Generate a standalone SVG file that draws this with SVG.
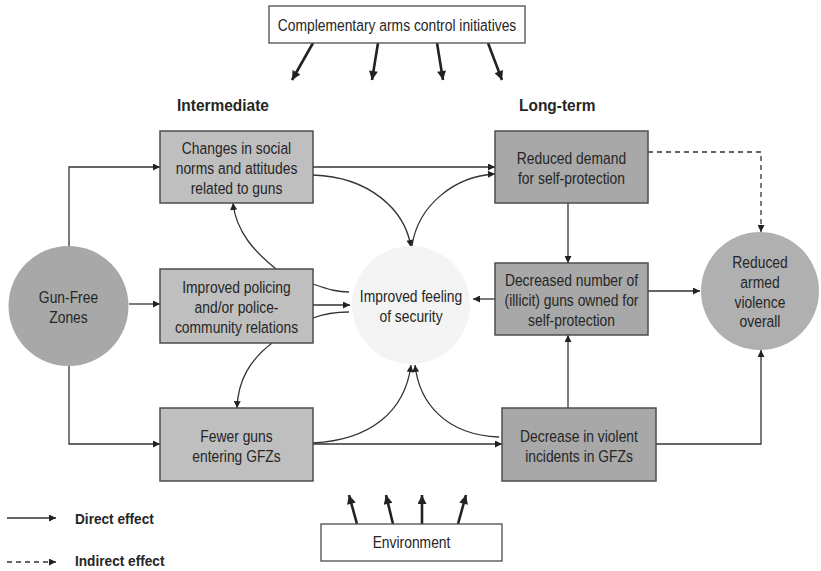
<svg xmlns="http://www.w3.org/2000/svg" width="821" height="571" viewBox="0 0 821 571">
<defs>
<style>
.t{font-family:"Liberation Sans",Arial,sans-serif;font-size:17px;fill:#262626;text-anchor:middle}
.b{font-family:"Liberation Sans",Arial,sans-serif;font-weight:bold;fill:#262626}
.mid{fill:#bfbfbf;stroke:#4d4d4d;stroke-width:1.5}
.lt{fill:#a8a8a8;stroke:#4d4d4d;stroke-width:1.5}
.wb{fill:#fff;stroke:#4d4d4d;stroke-width:1.3}
.c{fill:none;stroke:#333;stroke-width:1.3}
.ca{fill:none;stroke:#333;stroke-width:1.3;marker-end:url(#a)}
.th{fill:none;stroke:#222;stroke-width:2.6;marker-end:url(#at)}
.d{stroke-dasharray:5 4}
</style>
<marker id="a" viewBox="0 0 10 10" refX="10" refY="5" markerWidth="9" markerHeight="7" markerUnits="userSpaceOnUse" orient="auto"><path d="M0,0 L10,5 L0,10 z" fill="#222"/></marker>
<marker id="at" viewBox="0 0 10 10" refX="10" refY="5" markerWidth="11" markerHeight="9" markerUnits="userSpaceOnUse" orient="auto"><path d="M0,0 L10,5 L0,10 z" fill="#222"/></marker>
</defs>
<rect width="821" height="571" fill="#fff"/>

<g id="connectors">
<path class="ca" d="M69,247 V167 H160"/>
<path class="ca" d="M129,304 H160"/>
<path class="ca" d="M69,365 V444 H160"/>
<path class="ca" d="M313,167 H495"/>
<path class="ca" d="M313,175 C370,177 405,210 411,247"/>
<path class="ca" d="M412,246 C418,205 455,176 495,174"/>
<path class="ca" d="M276,269 C255,252 236,232 233,203"/>
<path class="ca" d="M272,343 C250,360 238,380 237,408"/>
<path class="c" d="M313,284 C330,290 338,292 349,292"/>
<path class="ca" d="M313,305 H350"/>
<path class="c" d="M313,318 C326,313 338,312 349,312"/>
<path class="ca" d="M495,299 H473"/>
<path class="ca" d="M568,203 V263"/>
<path class="ca" d="M568,408 V335"/>
<path class="ca" d="M648,291 H700"/>
<path class="ca d" d="M648,152 H761 V232"/>
<path class="ca" d="M656,444 H761 V350"/>
<path class="ca" d="M313,444 H502"/>
<path class="ca" d="M313,443 C370,440 405,412 411,365"/>
<path class="ca" d="M499,437 C445,435 419,402 415,365"/>
<path class="th" d="M313,43 L292,80"/>
<path class="th" d="M378,43 L372,80"/>
<path class="th" d="M437,43 L443,80"/>
<path class="th" d="M488,43 L502,80"/>
<path class="th" d="M357,524 L349,495"/>
<path class="th" d="M393,524 L386,495"/>
<path class="th" d="M422,524 L422,495"/>
<path class="th" d="M458,524 L466,495"/>
</g>

<g id="complementary">
<rect class="wb" x="269" y="6" width="256" height="37"/>
<text class="t" transform="translate(397 0) scale(0.815 1)"><tspan x="0" y="31">Complementary arms control initiatives</tspan></text>
</g>

<g id="headers">
<text class="b" font-size="17" transform="translate(177 111) scale(0.91 1)">Intermediate</text>
<text class="b" font-size="17" transform="translate(519 111) scale(0.91 1)">Long-term</text>
</g>

<g id="gfz">
<circle cx="68.5" cy="306" r="60" fill="#a8a8a8"/>
<text class="t" transform="translate(68.5 0) scale(0.815 1)"><tspan x="0" y="303">Gun-Free</tspan><tspan x="0" y="323">Zones</tspan></text>
</g>

<g id="norms">
<rect class="mid" x="160" y="131" width="153" height="72"/>
<text class="t" transform="translate(236.5 0) scale(0.815 1)"><tspan x="0" y="154">Changes in social</tspan><tspan x="0" y="174">norms and attitudes</tspan><tspan x="0" y="194">related to guns</tspan></text>
</g>

<g id="policing">
<rect class="mid" x="160" y="269" width="153" height="74"/>
<text class="t" transform="translate(236.5 0) scale(0.815 1)"><tspan x="0" y="293">Improved policing</tspan><tspan x="0" y="313">and/or police-</tspan><tspan x="0" y="333">community relations</tspan></text>
</g>

<g id="fewer">
<rect class="mid" x="160" y="408" width="153" height="73"/>
<text class="t" transform="translate(236.5 0) scale(0.815 1)"><tspan x="0" y="442">Fewer guns</tspan><tspan x="0" y="462">entering GFZs</tspan></text>
</g>

<g id="security">
<circle cx="411" cy="305" r="59" fill="#f4f4f4"/>
<text class="t" transform="translate(411 0) scale(0.815 1)"><tspan x="0" y="302">Improved feeling</tspan><tspan x="0" y="322">of security</tspan></text>
</g>

<g id="demand">
<rect class="lt" x="495" y="131" width="153" height="72"/>
<text class="t" transform="translate(571.5 0) scale(0.815 1)"><tspan x="0" y="164">Reduced demand</tspan><tspan x="0" y="184">for self-protection</tspan></text>
</g>

<g id="decreased">
<rect class="lt" x="495" y="263" width="153" height="72"/>
<text class="t" transform="translate(571.5 0) scale(0.815 1)"><tspan x="0" y="286">Decreased number of</tspan><tspan x="0" y="306">(illicit) guns owned for</tspan><tspan x="0" y="326">self-protection</tspan></text>
</g>

<g id="incidents">
<rect class="lt" x="502" y="408" width="154" height="73"/>
<text class="t" transform="translate(579 0) scale(0.815 1)"><tspan x="0" y="442">Decrease in violent</tspan><tspan x="0" y="462">incidents in GFZs</tspan></text>
</g>

<g id="violence">
<circle cx="760" cy="291" r="59" fill="#b0b0b0"/>
<text class="t" transform="translate(760 0) scale(0.815 1)"><tspan x="0" y="268">Reduced</tspan><tspan x="0" y="288">armed</tspan><tspan x="0" y="308">violence</tspan><tspan x="0" y="327">overall</tspan></text>
</g>

<g id="environment">
<rect class="wb" x="321" y="524" width="181" height="37"/>
<text class="t" transform="translate(411.5 0) scale(0.815 1)"><tspan x="0" y="548">Environment</tspan></text>
</g>

<g id="legend">
<path class="ca" d="M7,518 H56"/>
<path class="ca d" d="M7,562 H56"/>
<text class="b" font-size="15" transform="translate(75 524) scale(0.91 1)">Direct effect</text>
<text class="b" font-size="15" transform="translate(75 566) scale(0.91 1)">Indirect effect</text>
</g>
</svg>
